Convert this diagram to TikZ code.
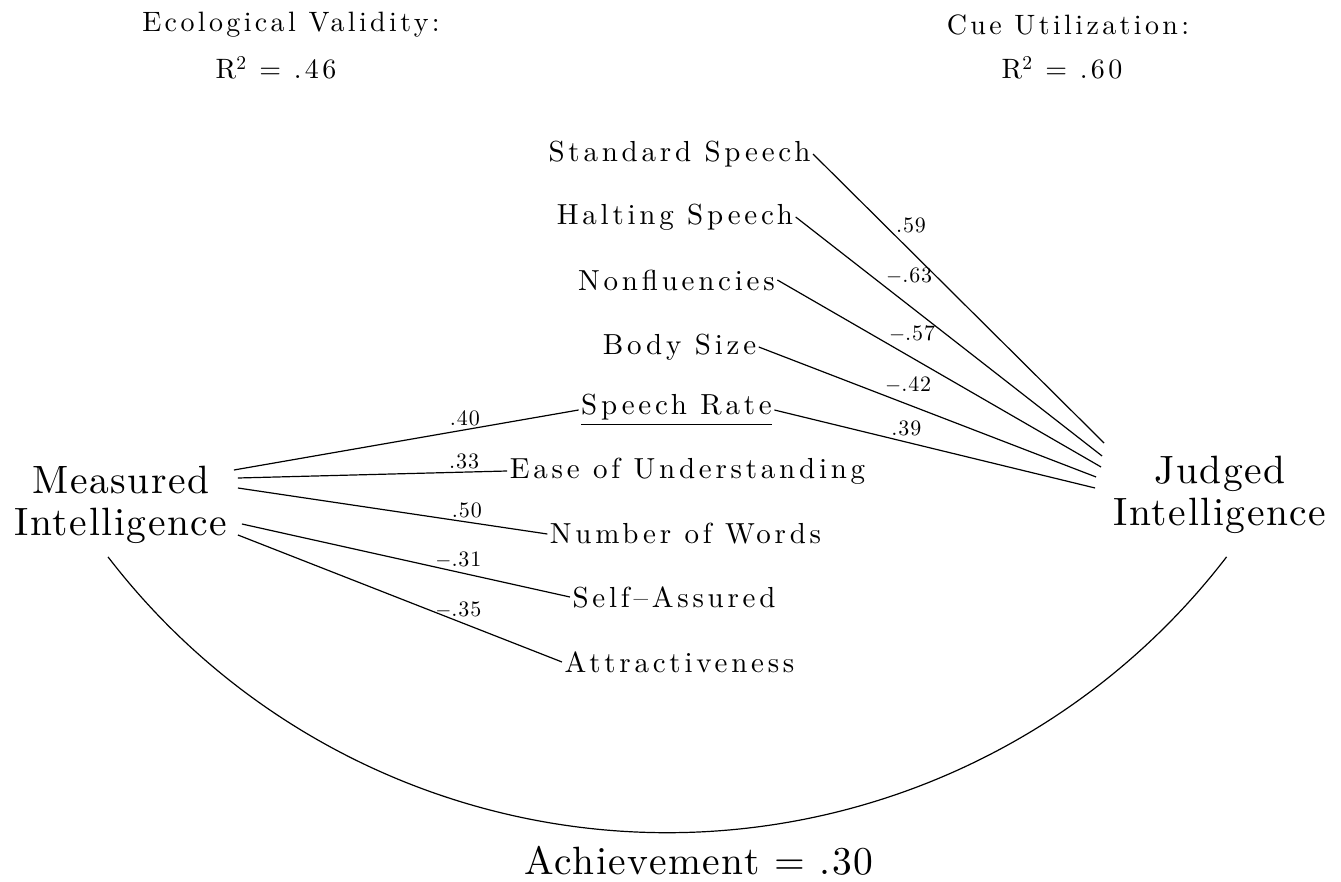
\documentclass[tikz,border=0pt]{standalone}
\usepackage{amsmath}
\usepackage{fontspec}
\usepackage{tikz}

\newfontfamily\cuefont{lmroman10-regular.otf}[LetterSpace=13]
\newfontfamily\headfont{lmroman10-regular.otf}[LetterSpace=12]
\newfontfamily\bigfont{lmroman10-regular.otf}[LetterSpace=4]
\newfontfamily\wtfont{lmroman10-regular.otf}[LetterSpace=4]

\tikzset{
	cue/.style={font={\cuefont\fontsize{29}{33}\selectfont}, inner sep=2pt},
	head/.style={font={\headfont\fontsize{28}{32}\selectfont}, inner sep=2pt},
	big/.style={font={\bigfont\fontsize{39.5}{42}\selectfont}, align=center, inner sep=3pt},
	wt/.style={font={\wtfont\fontsize{22}{24}\selectfont}, inner sep=1pt},
}

\begin{document}
\begin{tikzpicture}[x=1pt, y=-1pt, line width=1.2pt]
		\useasboundingbox (0,0) rectangle (1341,882);

		\node [head] (ecol) at (291,25) {Ecological Validity:};
		\node [head] (ecolr) at (276,68) {R\textsuperscript{2} = .46};
		\node [head] (util) at (1068,25) {Cue Utilization:};
		\node [head] (utilr) at (1062,68) {R\textsuperscript{2} = .60};

		\node [big] (mi) at (121,505) {Measured\\Intelligence};
		\node [big] (ji) at (1220,495) {Judged\\Intelligence};

		\node [cue] (std) at (679.5,154) {Standard Speech};
		\node [cue] (halt) at (675,217) {Halting Speech};
		\node [cue] (nonfl) at (676.5,280) {Nonfluencies};
		\node [cue] (body) at (679.5,347) {Body Size};
		\node [cue] (rate) at (676.5,410) {\underline{Speech Rate}};
		\node [cue] (ease) at (687.5,471) {Ease of Understanding};
		\node [cue] (words) at (685.5,534) {Number of Words};
		\node [cue] (assured) at (674,597) {Self\textendash Assured};
		\node [cue] (attract) at (679.5,662) {Attractiveness};

		\draw ([shift={(3,-35)}]mi.east) -- node [wt, above=2pt, pos=.67] (w40) {.40} (rate.west);
		\draw ([shift={(7,-27)}]mi.east) -- node [wt, above=2pt, pos=.84] (w33) {.33} (ease.west);
		\draw ([shift={(7,-17)}]mi.east) -- node [wt, above=2pt, pos=.74] (w50) {.50} (words.west);
		\draw ([shift={(11,19)}]mi.east) -- node [wt, above=2pt, pos=.66] (w31) {$-$.31} (assured.west);
		\draw ([shift={(7,30)}]mi.east) -- node [wt, above=2pt, pos=.68] (w35) {$-$.35} (attract.west);

		\draw (std.east) -- node [wt, anchor=south west, pos=.28] (w59) {.59} ([shift={(-6,-52)}]ji.west);
		\draw (halt.east) -- node [wt, anchor=south west, pos=.29] (w63) {$-$.63} ([shift={(-8,-39)}]ji.west);
		\draw (nonfl.east) -- node [wt, anchor=south west, pos=.34] (w57) {$-$.57} ([shift={(-9,-28)}]ji.west);
		\draw (body.east) -- node [wt, anchor=south west, pos=.37] (w42) {$-$.42} ([shift={(-14,-18)}]ji.west);
		\draw (rate.east) -- node [wt, anchor=south west, pos=.36] (w39) {.39} ([shift={(-15,-7)}]ji.west);

		\draw ([shift={(-13,9.5)}]mi.south) arc [start angle=142.5, end angle=37.5, radius=705];
		\node [big, inner sep=1pt] (ach) at (699,861) {Achievement = .30};
	\end{tikzpicture}
\end{document}
